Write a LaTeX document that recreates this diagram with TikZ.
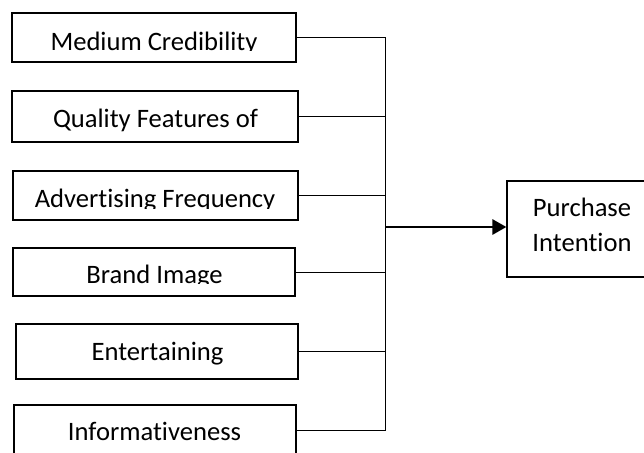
\documentclass[tikz,border=0pt]{standalone}
\usepackage{fontspec}
\setmainfont{Carlito}[Ligatures=NoCommon]
\usetikzlibrary{arrows.meta}
\begin{document}
\begin{tikzpicture}[x=1pt,y=-1pt,
  box/.style={draw, line width=1.2pt, inner sep=0pt, minimum height=49pt},
  lbl/.style={anchor=base, inner sep=0pt, font=\fontsize{26.6}{32}\selectfont},
  conn/.style={line width=1pt},
  spine/.style={line width=1.6pt},
  flow/.style={line width=2.8pt, -{Triangle[length=14pt,width=15pt]}}]
\useasboundingbox (0,0) rectangle (644,452);
\clip (0,0) rectangle (644,452);
% input boxes
\node[box, minimum width=284pt] (b1) at (154,37.5) {};
\node[box, minimum width=286pt, minimum height=51pt] (b2) at (155,116.5) {};
\node[box, minimum width=285pt] (b3) at (155.5,195.5) {};
\node[box, minimum width=282pt, minimum height=48pt] (b4) at (154,272) {};
\node[box, minimum width=282pt, minimum height=55pt] (b5) at (157,351.5) {};
\node[box, minimum width=282pt, minimum height=50pt] (b6) at (155,430) {};
% labels (some clipped at the baseline, as in the reference)
\begin{scope}
  \clip (0,0) rectangle (644,50.8);
  \node[lbl] (t1) at (154,50) {Medium Credibility};
\end{scope}
\node[lbl] (t2) at (155.5,127) {Quality Features of};
\begin{scope}
  \clip (0,150) rectangle (644,208.3);
  \node[lbl] (t3) at (155,207.5) {Advertising Frequency};
\end{scope}
\begin{scope}
  \clip (0,250) rectangle (644,283.8);
  \node[lbl] (t4) at (154.5,283) {Brand Image};
\end{scope}
\node[lbl] (t5) at (157.5,360) {Entertaining};
\node[lbl] (t6) at (154.5,440.5) {Informativeness};
% output box
\node[box, minimum width=150pt, minimum height=96pt] (p) at (582,229) {};
\node[lbl] (pt1) at (582,216.7) {Purchase};
\node[lbl] (pt2) at (582,251.7) {Intention};
% connectors
\coordinate (bus) at (385.5,0);
\foreach \i in {1,...,6}{
  \draw[conn] (b\i.east) -- (b\i.east -| bus);
}
\draw[spine] (b1.east -| bus) -- (b6.east -| bus);
\draw[flow] (bus |- 0,227) -- (p.west |- 0,227);
\end{tikzpicture}
\end{document}
